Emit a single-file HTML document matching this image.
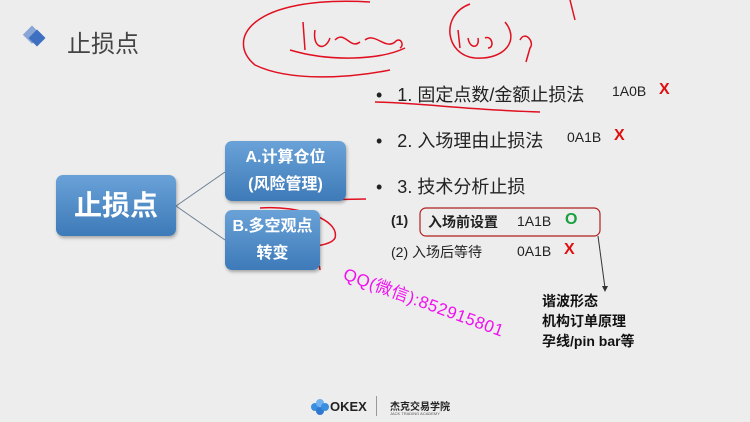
<!DOCTYPE html>
<html><head><meta charset="utf-8"><style>
body{margin:0;width:750px;height:422px;background:#ededed;position:relative;overflow:hidden;font-family:"Liberation Sans","Noto Sans CJK SC",sans-serif;}
.a{position:absolute;white-space:nowrap;}
.box{position:absolute;border-radius:7px;background:linear-gradient(#6aa2d8,#3d7ab8);box-shadow:1px 2px 3px rgba(0,0,0,.3);color:#fff;font-weight:bold;text-align:center;}
.t{font-size:18px;color:#222;}
.s{font-size:14px;color:#222;}
.x{color:#e01010;font-weight:bold;font-size:16px;}
</style></head><body>
<svg class="a" style="left:0;top:0" width="750" height="422">
<rect x="26" y="28" width="13" height="13" fill="#8aa6d6" transform="rotate(45 32 34)"/>
<rect x="31" y="32" width="12" height="12" fill="#3f6fc0" transform="rotate(45 37 38)"/>
<line x1="176" y1="206" x2="225" y2="172" stroke="#6b7f95" stroke-width="1"/>
<line x1="176" y1="206" x2="225" y2="240" stroke="#6b7f95" stroke-width="1"/>
<line x1="598" y1="236" x2="605" y2="288" stroke="#333" stroke-width="1"/>
<polygon points="602,286 608,286 605,292" fill="#333"/>
<g fill="none" stroke="#e01020" stroke-width="1.5">
<path d="M370,2 C250,-5 225,40 255,65 C290,82 350,78 390,70"/>
<path d="M290,50 C330,62 380,60 405,48"/>
<path d="M303,22 L305,50 M315,30 C312,48 325,52 330,38 M335,40 C345,30 350,50 360,42 M365,40 C375,32 385,50 395,42 C400,36 405,45 400,48"/>
<path d="M470,4 C440,15 445,55 475,58 C505,60 520,40 505,22"/>
<path d="M458,30 L460,48 M468,38 C470,50 480,48 478,38 M485,38 C492,35 495,48 488,48"/>
<path d="M520,40 C525,30 535,42 530,48 L526,62"/>
<path d="M570,0 L575,20"/>
<path d="M375,102 C420,103 470,110 540,112"/>
<path d="M233,148 C235,170 236,190 238,200 M238,160 C270,155 320,156 340,165 M237,196 C270,200 330,200 366,199 M335,150 C338,170 338,190 334,193"/>
<path d="M240,214 C220,215 222,240 250,244 C290,250 330,248 335,238 C340,220 300,205 260,208"/>
<path d="M250,258 C290,252 320,255 320,270"/>
<rect x="420" y="208" width="180" height="28" rx="6" stroke="#b02020" stroke-width="1.2"/>
</g>
</svg>
<div class="a" style="left:67px;top:24px;font-size:24px;color:#444">止损点</div>
<div class="box" style="left:56px;top:175px;width:120px;height:61px;line-height:61px;font-size:28px">止损点</div>
<div class="box" style="left:225px;top:141px;width:121px;height:60px;font-size:16px;line-height:27px;padding-top:3px;box-sizing:border-box">A.计算仓位<br>(风险管理)</div>
<div class="box" style="left:225px;top:210px;width:95px;height:60px;font-size:16px;line-height:27px;padding-top:3px;box-sizing:border-box">B.多空观点<br>转变</div>
<div class="a t" style="left:376px;top:81px">•&nbsp;&nbsp; 1. 固定点数/金额止损法</div>
<div class="a s" style="left:612px;top:83px">1A0B</div><div class="a x" style="left:659px;top:81px">X</div>
<div class="a t" style="left:376px;top:127px">•&nbsp;&nbsp; 2. 入场理由止损法</div>
<div class="a s" style="left:567px;top:129px">0A1B</div><div class="a x" style="left:614px;top:127px">X</div>
<div class="a t" style="left:376px;top:173px">•&nbsp;&nbsp; 3. 技术分析止损</div>
<div class="a s" style="left:391px;top:212px;font-weight:bold">(1)</div>
<div class="a s" style="left:428px;top:212px;font-weight:bold">入场前设置</div>
<div class="a s" style="left:517px;top:213px">1A1B</div>
<div class="a" style="left:565px;top:211px;color:#1aa040;font-weight:bold;font-size:16px">O</div>
<div class="a s" style="left:391px;top:242px">(2) 入场后等待</div>
<div class="a s" style="left:517px;top:243px">0A1B</div><div class="a x" style="left:564px;top:241px">X</div>
<div class="a" style="left:542px;top:291px;font-size:14px;font-weight:bold;line-height:20px;color:#111">谐波形态<br>机构订单原理<br>孕线/pin bar等</div>
<div class="a" style="left:349px;top:260px;font-size:17px;color:#f010f0;transform:rotate(20deg);transform-origin:0 0;letter-spacing:0.5px">QQ(微信):852915801</div>
<svg class="a" style="left:310px;top:399px" width="20" height="16"><circle cx="5" cy="8" r="4" fill="#3a8ee0"/><circle cx="10" cy="4" r="4" fill="#6fb0f0"/><circle cx="10" cy="12" r="4" fill="#2f78d0"/><circle cx="15" cy="8" r="4" fill="#3a8ee0"/></svg>
<div class="a" style="left:330px;top:399px;font-size:13px;font-weight:bold;color:#222">OKEX</div>
<div class="a" style="left:376px;top:396px;width:1px;height:20px;background:#999"></div>
<div class="a" style="left:390px;top:398px;font-size:10px;color:#222;font-weight:bold">杰克交易学院</div>
<div class="a" style="left:390px;top:411px;font-size:4px;color:#555">JACK TRADING ACADEMY</div>
</body></html>
